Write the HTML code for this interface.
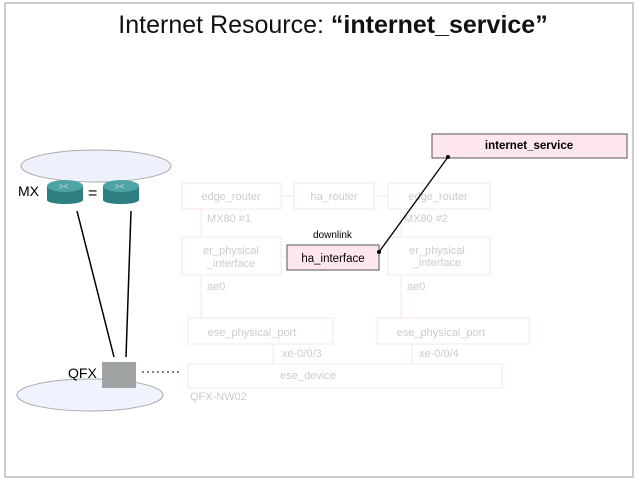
<!DOCTYPE html>
<html><head><style>body{margin:0;background:#fff}svg{display:block}</style></head><body>
<svg width="640" height="480" viewBox="0 0 640 480" xmlns="http://www.w3.org/2000/svg" font-family="Liberation Sans, sans-serif">
<rect x="5" y="3" width="628" height="474" fill="#fff" stroke="#bbb" stroke-width="1.5"/>
<text x="333" y="33" font-size="25" text-anchor="middle" fill="#111">Internet Resource: <tspan font-weight="bold">“internet_service”</tspan></text>
<!-- clouds -->
<ellipse cx="96" cy="166" rx="75" ry="16" fill="#eef1fb" stroke="#aaa"/>
<ellipse cx="90" cy="395" rx="73" ry="16" fill="#eef3fd" stroke="#aaa"/>
<!-- MX routers -->
<text x="18" y="196" font-size="14">MX</text>
<g>
<rect x="47" y="186" width="36" height="14" fill="#2e7f82"/><ellipse cx="65" cy="200" rx="18" ry="4" fill="#2e7f82"/><ellipse cx="65" cy="186" rx="18" ry="6" fill="#4ea3a5"/>
<rect x="103" y="186" width="36" height="14" fill="#2e7f82"/><ellipse cx="121" cy="200" rx="18" ry="4" fill="#2e7f82"/><ellipse cx="121" cy="186" rx="18" ry="6" fill="#4ea3a5"/>
<text x="59" y="189" font-size="8" fill="#ddd">&gt;&lt;</text><text x="115" y="189" font-size="8" fill="#ddd">&gt;&lt;</text>
</g>
<text x="88" y="198" font-size="16">=</text>
<line x1="77" y1="211" x2="114" y2="357" stroke="#000" stroke-width="1.5"/>
<line x1="131" y1="211" x2="126" y2="357" stroke="#000" stroke-width="1.5"/>
<rect x="102" y="362" width="34" height="26" fill="#a0a3a3"/>
<text x="68" y="378" font-size="14">QFX</text>
<line x1="142" y1="372" x2="182" y2="372" stroke="#000" stroke-dasharray="2 3"/>
<!-- faded diagram -->
<g stroke="#f5e6e9" fill="#fff" font-size="11" >
<rect x="182" y="183" width="99" height="26"/>
<rect x="294" y="183" width="80" height="26"/>
<rect x="388" y="183" width="102" height="26"/>
<rect x="182" y="237" width="99" height="38"/>
<rect x="388" y="237" width="102" height="38"/>
<rect x="188" y="318" width="145" height="26"/>
<rect x="377" y="318" width="152" height="26"/>
<rect x="188" y="364" width="314" height="24"/>
<line x1="281" y1="196" x2="294" y2="196"/><line x1="374" y1="196" x2="388" y2="196"/>
<line x1="201" y1="209" x2="201" y2="237"/><line x1="401" y1="209" x2="401" y2="237"/>
<line x1="281" y1="257" x2="288" y2="257"/>
<line x1="201" y1="275" x2="201" y2="318"/><line x1="401" y1="275" x2="401" y2="318"/>
<line x1="273" y1="344" x2="273" y2="364"/><line x1="412" y1="344" x2="412" y2="364"/>
</g>
<g fill="#ccc" font-size="11">
<text x="231" y="200" text-anchor="middle">edge_router</text>
<text x="334" y="200" text-anchor="middle">ha_router</text>
<text x="438" y="200" text-anchor="middle">edge_router</text>
<text x="207" y="222">MX80 #1</text><text x="404" y="222">MX80 #2</text>
<text x="231" y="254" text-anchor="middle">er_physical</text><text x="231" y="267" text-anchor="middle">_interface</text>
<text x="437" y="254" text-anchor="middle">er_physical</text><text x="437" y="266" text-anchor="middle">_interface</text>
<text x="207" y="290">ae0</text><text x="407" y="290">ae0</text>
<text x="252" y="336" text-anchor="middle">ese_physical_port</text>
<text x="441" y="336" text-anchor="middle">ese_physical_port</text>
<text x="282" y="357">xe-0/0/3</text><text x="419" y="357">xe-0/0/4</text>
<text x="308" y="379" text-anchor="middle">ese_device</text>
<text x="190" y="400">QFX-NW02</text>
</g>
<!-- active -->
<text x="313" y="238" font-size="10">downlink</text>
<rect x="287" y="245" width="92" height="25" fill="#fde6ec" stroke="#555"/>
<text x="333" y="262" font-size="11.5" text-anchor="middle">ha_interface</text>
<rect x="432" y="134" width="195" height="24" fill="#fde6ec" stroke="#555"/>
<text x="529" y="149" font-size="11.5" font-weight="bold" text-anchor="middle">internet_service</text>
<line x1="448" y1="157" x2="379" y2="252" stroke="#000" stroke-width="1.3"/>
<circle cx="448" cy="157" r="2" fill="#000"/><circle cx="379" cy="252" r="2" fill="#000"/>
</svg>
</body></html>
